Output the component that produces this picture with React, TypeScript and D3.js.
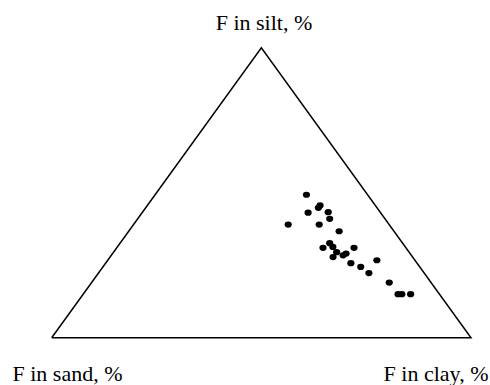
import React from "react";
import { scaleLinear, line } from "d3";

// ternary coordinates (% of F in each fraction)
const siltPct = [49.3, 45.6, 44.8, 43.1, 43.3, 41.0, 39.0, 39.0, 36.7, 32.6, 31.0, 31.3, 29.5, 27.8, 28.4, 29.0, 31.0, 25.7, 24.4, 26.7, 22.3, 19.0, 15.0, 15.0, 15.0];
const clayPct = [36.1, 41.2, 41.2, 39.6, 44.3, 45.8, 36.9, 44.3, 50.2, 50.0, 49.2, 51.4, 53.2, 53.2, 55.3, 55.7, 56.6, 58.5, 61.5, 64.2, 64.5, 71.0, 75.1, 76.0, 78.1];
const sandPct = siltPct.map((s, i) => 100 - s - clayPct[i]);

const cornerLabels = ["F in sand, %", "F in silt, %", "F in clay, %"];

const width = 490;
const height = 385;

const left = 51.7;
const right = 471;
const top = 47.7;
const bottom = 337.7;

// horizontal position: clay + silt/2 ; vertical: silt
const xScale = scaleLinear().domain([0, 100]).range([left, right]);
const yScale = scaleLinear().domain([0, 100]).range([bottom, top]);

const project = (sand: number, silt: number, clay: number): [number, number] => {
  const total = sand + silt + clay;
  const c = (clay / total) * 100;
  const s = (silt / total) * 100;
  return [xScale(c + s / 2), yScale(s)];
};

export default function App() {
  const corners: [number, number][] = [
    project(100, 0, 0),
    project(0, 100, 0),
    project(0, 0, 100),
  ];
  const outline = line()([...corners, corners[0]]) || "";

  const textStyle = { fontFamily: "Liberation Serif, DejaVu Serif, serif", fontSize: "22px" };

  return (
    <svg
      width={width}
      height={height}
      style={{ position: "absolute", left: 0, top: 0, background: "#fff" }}
    >
      <path d={outline} fill="none" stroke="#000" strokeWidth={1.5} strokeLinejoin="miter" />
      {siltPct.map((s, i) => {
        const [x, y] = project(sandPct[i], s, clayPct[i]);
        return <ellipse key={i} cx={x} cy={y} rx={3.6} ry={3.1} fill="#000" />;
      })}
      <text x={12.5} y={381} style={textStyle} fill="#000">
        {cornerLabels[0]}
      </text>
      <text x={264} y={29.5} style={textStyle} fill="#000" textAnchor="middle">
        {cornerLabels[1]}
      </text>
      <text x={488.5} y={381} style={textStyle} fill="#000" textAnchor="end">
        {cornerLabels[2]}
      </text>
    </svg>
  );
}
